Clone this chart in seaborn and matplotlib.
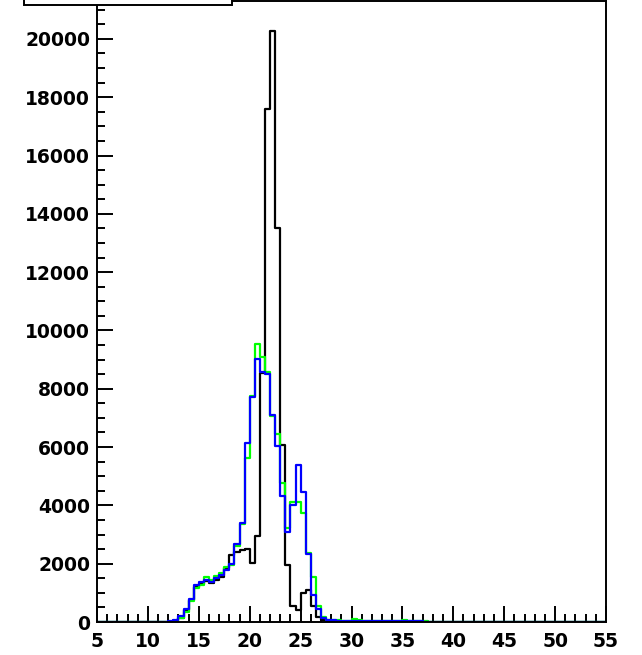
import numpy as np
import pandas as pd
import seaborn as sns
import matplotlib.pyplot as plt
from matplotlib.patches import Rectangle
from matplotlib.ticker import MultipleLocator

# 100 bins of width 0.5 from 5 to 55 (each row below = 10 bins = 5 units)
BIN_WIDTH = 0.5
X_RANGE = (5.0, 55.0)
BIN_CENTERS = np.arange(5.25, 55.0, 0.5)

black_counts = [
    0, 0, 0, 0, 0, 0, 0, 0, 0, 0,
    0, 0, 0, 5, 10, 40, 150, 400, 750, 1200,
    1320, 1400, 1340, 1450, 1560, 1850, 2300, 2410, 2470, 2520,
    2020, 2950, 8550, 17610, 20280, 13530, 6060, 1960, 550, 400,
    980, 1090, 550, 180, 60, 20, 10, 10, 5, 5,
    5, 5, 5, 0, 0, 0, 0, 0, 0, 0,
    0, 0, 0, 0, 0, 0, 0, 0, 0, 0,
    0, 0, 0, 0, 0, 0, 0, 0, 0, 0,
    0, 0, 0, 0, 0, 0, 0, 0, 0, 0,
    0, 0, 0, 0, 0, 0, 0, 0, 0, 0,
]

green_counts = [
    0, 0, 0, 0, 0, 0, 0, 0, 5, 5,
    5, 5, 10, 10, 15, 50, 150, 350, 730, 1150,
    1270, 1530, 1440, 1580, 1670, 1900, 1950, 2620, 3350, 5620,
    7750, 9530, 9100, 8590, 7070, 6450, 4760, 3210, 4130, 4130,
    3730, 2360, 1530, 550, 180, 80, 60, 60, 50, 50,
    90, 70, 50, 50, 50, 50, 40, 40, 40, 50,
    60, 40, 30, 20, 20, 10, 10, 5, 5, 5,
    5, 10, 5, 0, 0, 0, 0, 0, 0, 0,
    0, 0, 0, 0, 0, 0, 0, 0, 0, 0,
    0, 0, 0, 0, 0, 0, 0, 0, 0, 0,
]

blue_counts = [
    0, 0, 0, 0, 0, 0, 0, 0, 5, 5,
    5, 10, 10, 15, 20, 70, 220, 460, 800, 1260,
    1360, 1450, 1370, 1500, 1610, 1790, 1990, 2680, 3400, 6140,
    7720, 9010, 8590, 8500, 7090, 6030, 4310, 3100, 4030, 5390,
    4470, 2330, 940, 450, 150, 70, 60, 50, 50, 40,
    40, 50, 50, 40, 40, 40, 40, 40, 40, 40,
    30, 30, 20, 20, 10, 10, 5, 5, 0, 0,
    0, 0, 0, 0, 0, 0, 0, 0, 0, 0,
    0, 0, 0, 0, 0, 0, 0, 0, 0, 0,
    0, 0, 0, 0, 0, 0, 0, 0, 0, 0,
]

sns.set_style("white")
plt.rcParams["font.family"] = ["DejaVu Sans"]
plt.rcParams["font.weight"] = "bold"

fig = plt.figure(figsize=(6.42, 6.55), dpi=100, facecolor="white")
ax = fig.add_axes([97 / 642, 33 / 655, 509 / 642, 621 / 655])

for counts, color in [(black_counts, "black"), (green_counts, "#00ff00"), (blue_counts, "#0000ff")]:
    df = pd.DataFrame({"x": BIN_CENTERS, "w": counts})
    sns.histplot(data=df, x="x", weights="w", binwidth=BIN_WIDTH, binrange=X_RANGE,
                 element="step", fill=False, color=color, linewidth=1.6, ax=ax)

ax.set_xlim(*X_RANGE)
ax.set_ylim(0, 21300)
ax.set_xlabel("")
ax.set_ylabel("")

ax.xaxis.set_major_locator(MultipleLocator(5))
ax.xaxis.set_minor_locator(MultipleLocator(1))
ax.yaxis.set_major_locator(MultipleLocator(2000))
ax.yaxis.set_minor_locator(MultipleLocator(500))
ax.tick_params(which="both", direction="in", bottom=True, left=True, top=False, right=False,
               width=1.4, colors="black")
ax.tick_params(which="major", length=11.5, labelsize=13.5)
ax.tick_params(axis="x", which="major", pad=7)
ax.tick_params(axis="y", which="major", pad=5)
ax.tick_params(which="minor", length=6)
for lab in ax.get_xticklabels() + ax.get_yticklabels():
    lab.set_fontweight("bold")

for sp in ax.spines.values():
    sp.set_linewidth(1.4)
    sp.set_color("black")

# cut-off box at the top left
fig.add_artist(Rectangle((24 / 642, 650 / 655), 208 / 642, 0.1, transform=fig.transFigure,
                         facecolor="white", edgecolor="black", linewidth=1.4,
                         zorder=10, clip_on=False))

fig.savefig("out.png", dpi=100)
